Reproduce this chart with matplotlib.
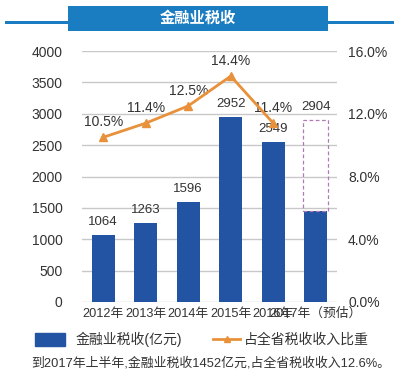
import numpy as np
import matplotlib
matplotlib.use("Agg")
import matplotlib.pyplot as plt
from matplotlib.patches import Rectangle
from matplotlib.lines import Line2D

plt.rcParams['font.family'] = ['Liberation Sans', 'Noto Sans CJK SC', 'DejaVu Sans']

years = ['2012年', '2013年', '2014年', '2015年', '2016年', '2017年（预估）']
tax = [1064, 1263, 1596, 2952, 2549, 1452]
tax_labels = ['1064', '1263', '1596', '2952', '2549', '2904']
tax_forecast = 2904
share = [10.5, 11.4, 12.5, 14.4, 11.4]

bar_color = '#2353a3'
line_color = '#e8913a'
text_color = '#333333'
grid_color = '#c8c8c8'
banner_color = '#1a7cc1'

fig = plt.figure(figsize=(4.0, 3.71), dpi=100)

# title banner: rule pieces left and right of the box
for x0, x1 in [(0.012, 0.175), (0.815, 0.985)]:
    fig.add_artist(Rectangle((x0, 0.934), x1 - x0, 0.009, facecolor=banner_color,
                             edgecolor='none', transform=fig.transFigure))
fig.add_artist(Rectangle((0.17, 0.917), 0.65, 0.068, facecolor=banner_color,
                         edgecolor='none', transform=fig.transFigure))
fig.text(0.495, 0.951, '金融业税收', ha='center', va='center', fontsize=11,
         color='white', fontweight='bold')

ax = fig.add_axes([0.205, 0.186, 0.6375, 0.6765])
x = np.arange(len(years))

ax.bar(x, tax, width=0.55, color=bar_color, zorder=3)
# forecast outline for 2017
ax.add_patch(Rectangle((x[-1] - 0.3, tax[-1]), 0.6, tax_forecast - tax[-1],
                       fill=False, edgecolor='#b07ab8', linestyle=(0, (3, 2)),
                       linewidth=0.9, zorder=4))
for i, lab in enumerate(tax_labels):
    top = tax_forecast if i == len(tax_labels) - 1 else tax[i]
    ax.annotate(lab, (x[i], top), xytext=(0, 5), textcoords='offset points',
                ha='center', va='bottom', fontsize=9.5, color=text_color)

ax.set_ylim(0, 4000)
ax.set_xlim(-0.5, 5.5)
ax.set_yticks(np.arange(0, 4001, 500))
ax.grid(axis='y', color=grid_color, linewidth=1.0, zorder=0)
ax.tick_params(axis='y', length=0, pad=14, labelsize=10, labelcolor=text_color)
ax.tick_params(axis='x', length=0, pad=4, labelsize=9.2, labelcolor=text_color)
ax.set_xticks(x)
ax.set_xticklabels(years)
for s in ax.spines.values():
    s.set_visible(False)

ax2 = ax.twinx()
ax2.plot(x[:len(share)], share, color=line_color, linewidth=2, marker='^',
         markersize=6, zorder=5)
for i, v in enumerate(share):
    ax2.annotate(f'{v:.1f}%', (x[i], v), xytext=(0, 6), textcoords='offset points',
                 ha='center', va='bottom', fontsize=10, color=text_color)
ax2.set_ylim(0, 16)
ax2.set_yticks([0, 4, 8, 12, 16])
ax2.set_yticklabels(['0.0%', '4.0%', '8.0%', '12.0%', '16.0%'])
ax2.tick_params(axis='y', length=0, pad=8, labelsize=10, labelcolor=text_color)
for s in ax2.spines.values():
    s.set_visible(False)

# legend
fig.add_artist(Rectangle((0.088, 0.067), 0.075, 0.035, color=bar_color,
                         transform=fig.transFigure))
fig.text(0.19, 0.085, '金融业税收(亿元)', ha='left', va='center', fontsize=10, color=text_color)
fig.add_artist(Line2D([0.533, 0.6], [0.085, 0.085], color=line_color, linewidth=2,
                      transform=fig.transFigure))
fig.add_artist(Line2D([0.5665], [0.085], color=line_color, marker='^', markersize=5,
                      transform=fig.transFigure))
fig.text(0.61, 0.085, '占全省税收收入比重', ha='left', va='center', fontsize=10, color=text_color)

fig.text(0.078, 0.022, '到2017年上半年,金融业税收1452亿元,占全省税收收入12.6%。',
         ha='left', va='center', fontsize=9.3, color=text_color)

fig.savefig('out.png', dpi=100)
